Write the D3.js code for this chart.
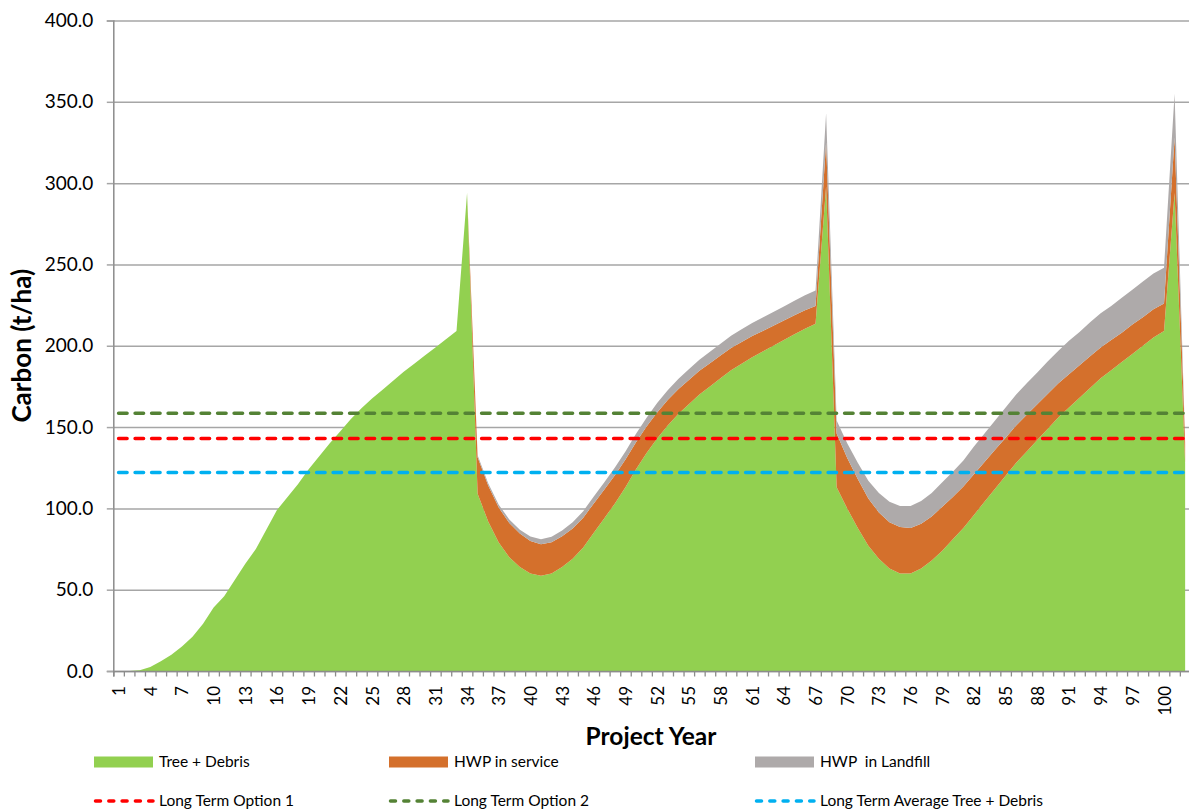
<!DOCTYPE html>
<html>
<head>
<meta charset="utf-8">
<script src="https://cdn.jsdelivr.net/npm/d3@7"></script>
<style>
  html, body { margin: 0; padding: 0; background: #ffffff; }
  svg { display: block; }
</style>
</head>
<body>
<svg id="chart" width="1189" height="811"></svg>
<script>
// ---------------- DATA ----------------
const years = d3.range(1, 103);
const xTickLabels = d3.range(1, 103, 3);
const yTicks = [0, 50, 100, 150, 200, 250, 300, 350, 400];

const treeDebris = [
  0, 0, 0.5, 2.5, 6, 10, 15, 21, 29, 39,
  46, 56, 66, 75, 87, 99, 107, 115, 124, 132,
  140, 147.5, 155, 161.5, 167.5, 173, 178.5, 184, 189, 194,
  199, 204, 209, 294, 109, 92, 79, 70, 64, 60,
  58.5, 60, 64, 69, 76, 85, 94, 103, 113, 124,
  134, 143, 151, 158, 164, 170, 175, 180, 185, 189,
  193, 196.5, 200, 203.5, 207, 210.5, 213.5, 298, 113, 100,
  88, 77, 69, 63, 60, 60, 63, 68, 74, 81,
  88, 96, 104, 112, 120, 128, 135, 142, 149, 156,
  162, 168, 174, 180, 185, 190, 195, 200, 205, 209,
  294, 128
];
const hwpService = [
  0, 0, 0, 0, 0, 0, 0, 0, 0, 0,
  0, 0, 0, 0, 0, 0, 0, 0, 0, 0,
  0, 0, 0, 0, 0, 0, 0, 0, 0, 0,
  0, 0, 0, 0, 22.5, 22, 21.5, 21, 20.5, 20,
  19.5, 19.2, 18.9, 18.6, 18.3, 18, 17.6, 17.3, 17, 16.6,
  16.3, 16, 15.6, 15.3, 15, 14.6, 14.3, 14, 13.6, 13.3,
  13, 12.6, 12.3, 12, 11.7, 11.4, 11, 27, 33, 31,
  30, 29, 28.5, 28.5, 28.5, 28, 27.5, 27, 27, 26,
  25.5, 25, 24.5, 24, 23.5, 23, 22.5, 22, 21.5, 21,
  20.5, 20, 19.5, 19, 18.5, 18, 18, 17.5, 17.5, 17,
  34, 12
];
const hwpLandfill = [
  0, 0, 0, 0, 0, 0, 0, 0, 0, 0,
  0, 0, 0, 0, 0, 0, 0, 0, 0, 0,
  0, 0, 0, 0, 0, 0, 0, 0, 0, 0,
  0, 0, 0, 0, 1.2, 1.5, 1.8, 2.1, 2.4, 2.7,
  3, 3.3, 3.5, 3.8, 4, 4.3, 4.5, 4.8, 5, 5.3,
  5.5, 5.8, 6, 6.3, 6.5, 6.8, 7, 7.3, 7.5, 7.8,
  8, 8.2, 8.4, 8.7, 8.9, 9.2, 9.4, 18, 8, 9,
  10, 11, 12, 12.5, 13, 13.5, 14, 14.5, 15, 15.5,
  16, 17, 17.5, 18, 18.5, 19, 19.5, 19.5, 20, 20,
  20.5, 20.5, 21, 21, 21, 21.5, 21.5, 22, 22, 22,
  27, 1
];
const longTermOption1 = 143;
const longTermOption2 = 158.5;
const longTermAvgTree = 122;

const areaSeries = ["Tree + Debris", "HWP in service", "HWP  in Landfill"];
const lineSeries = ["Long Term Option 1", "Long Term Option 2", "Long Term Average Tree + Debris"];

// ---------------- STYLE ----------------
const colors = {
  tree: "#92D050",
  service: "#D4702C",
  landfill: "#AEAAAA",
  opt1: "#FF0000",
  opt2: "#548235",
  avg: "#00B0F0",
  grid: "#A6A6A6",
  axis: "#8C8C8C"
};

const svg = d3.select("#chart");
const plotLeft = 113.3, catW = 10.56;
const plotRight = plotLeft + catW * years.length;
const plotTop = 20.5, plotBottom = 671;

const x = d3.scaleBand().domain(years).range([plotLeft, plotRight]).padding(0);
const xEdge = d3.scaleLinear().domain([0, years.length]).range([plotLeft, plotRight]);
const y = d3.scaleLinear().domain([0, 400]).range([plotBottom, plotTop]);
const cx = d => x(d) + x.bandwidth() / 2;

// gridlines
svg.append("g")
  .attr("transform", `translate(${plotLeft},0)`)
  .call(d3.axisLeft(y).tickValues(yTicks).tickSize(-(1189 - plotLeft)).tickFormat(""))
  .call(g => g.select(".domain").remove())
  .call(g => g.selectAll("line").attr("stroke", colors.grid).attr("stroke-width", 1.5));

// stacked areas
const table = years.map((yr, i) => ({
  year: yr,
  tree: treeDebris[i],
  service: hwpService[i],
  landfill: hwpLandfill[i]
}));
const stack = d3.stack().keys(["tree", "service", "landfill"]);
const stacked = stack(table);
const area = d3.area()
  .x(d => cx(d.data.year))
  .y0(d => y(d[0]))
  .y1(d => y(d[1]));
svg.append("g").selectAll("path")
  .data(stacked)
  .join("path")
  .attr("d", area)
  .attr("fill", d => colors[d.key]);

// dashed lines
const lineData = [
  { key: "opt2", v: longTermOption2 },
  { key: "opt1", v: longTermOption1 },
  { key: "avg", v: longTermAvgTree }
];
const line = d3.line().x(d => cx(d.year)).y(d => y(d.v));
svg.append("g").selectAll("path")
  .data(lineData)
  .join("path")
  .attr("d", d => line(years.map(yr => ({ year: yr, v: d.v }))))
  .attr("fill", "none")
  .attr("stroke", d => colors[d.key])
  .attr("stroke-width", 3.5)
  .attr("stroke-linecap", "round")
  .attr("stroke-dasharray", "8.5,8");

// y axis
const yAxis = svg.append("g")
  .attr("transform", `translate(${plotLeft},0)`)
  .call(d3.axisLeft(y).tickValues(yTicks).tickSize(6.5).tickPadding(13.5).tickFormat(d3.format(".1f")));
yAxis.select(".domain").attr("stroke", colors.axis).attr("stroke-width", 1.5);
yAxis.selectAll("line").attr("stroke", colors.grid).attr("stroke-width", 1.5);
yAxis.selectAll("text")
  .attr("font-family", "Lato")
  .attr("font-size", 19)
  .attr("fill", "#000");

// x axis: tick marks between categories
const xTicksG = svg.append("g")
  .attr("transform", `translate(0,${plotBottom})`)
  .call(d3.axisBottom(xEdge).tickValues(d3.range(0, years.length + 1)).tickSize(5.5).tickFormat(""));
xTicksG.select(".domain").attr("stroke", colors.axis).attr("stroke-width", 1.5);
xTicksG.selectAll("line").attr("stroke", colors.axis).attr("stroke-width", 1.3);

// x axis labels
const xLab = svg.append("g")
  .attr("transform", `translate(0,${plotBottom})`)
  .call(d3.axisBottom(x).tickValues(xTickLabels).tickSize(0).tickPadding(0));
xLab.select(".domain").remove();
xLab.selectAll("text")
  .attr("font-family", "Lato")
  .attr("font-size", 17)
  .attr("fill", "#000")
  .attr("text-anchor", "end")
  .attr("dy", null)
  .attr("y", 0)
  .attr("transform", "translate(0,15) rotate(-90) translate(0,6.5)");

// axis titles
svg.append("text")
  .attr("transform", `translate(22,${(plotTop + plotBottom) / 2}) rotate(-90)`)
  .attr("text-anchor", "middle")
  .attr("dy", "0.35em")
  .attr("font-family", "Lato")
  .attr("font-weight", "bold")
  .attr("font-size", 26)
  .text("Carbon (t/ha)");
svg.append("text")
  .attr("x", 651)
  .attr("y", 745)
  .attr("text-anchor", "middle")
  .attr("font-family", "Lato")
  .attr("font-weight", "bold")
  .attr("font-size", 24.5)
  .text("Project Year");

// legend
const legendItems = [
  { label: areaSeries[0], key: "tree", type: "area", x: 94, y: 762 },
  { label: areaSeries[1], key: "service", type: "area", x: 389, y: 762 },
  { label: areaSeries[2], key: "landfill", type: "area", x: 755, y: 762 },
  { label: lineSeries[0], key: "opt1", type: "line", x: 94, y: 801 },
  { label: lineSeries[1], key: "opt2", type: "line", x: 389, y: 801 },
  { label: lineSeries[2], key: "avg", type: "line", x: 755, y: 801 }
];
const lg = svg.append("g").selectAll("g").data(legendItems).join("g")
  .attr("transform", d => `translate(${d.x},${d.y})`);
lg.filter(d => d.type === "area").append("rect")
  .attr("x", 0).attr("y", -5.5).attr("width", 59).attr("height", 11)
  .attr("fill", d => colors[d.key]);
lg.filter(d => d.type === "line").append("line")
  .attr("x1", 1.5).attr("x2", 59).attr("y1", 0).attr("y2", 0)
  .attr("stroke", d => colors[d.key])
  .attr("stroke-width", 3.5)
  .attr("stroke-linecap", "round")
  .attr("stroke-dasharray", "5,8.3");
lg.append("text")
  .attr("x", 65).attr("y", 0).attr("dy", "0.35em")
  .attr("font-family", "Lato")
  .attr("font-size", 15.5)
  .attr("fill", "#000")
  .style("white-space", "pre")
  .text(d => d.label);
</script>
</body>
</html>
